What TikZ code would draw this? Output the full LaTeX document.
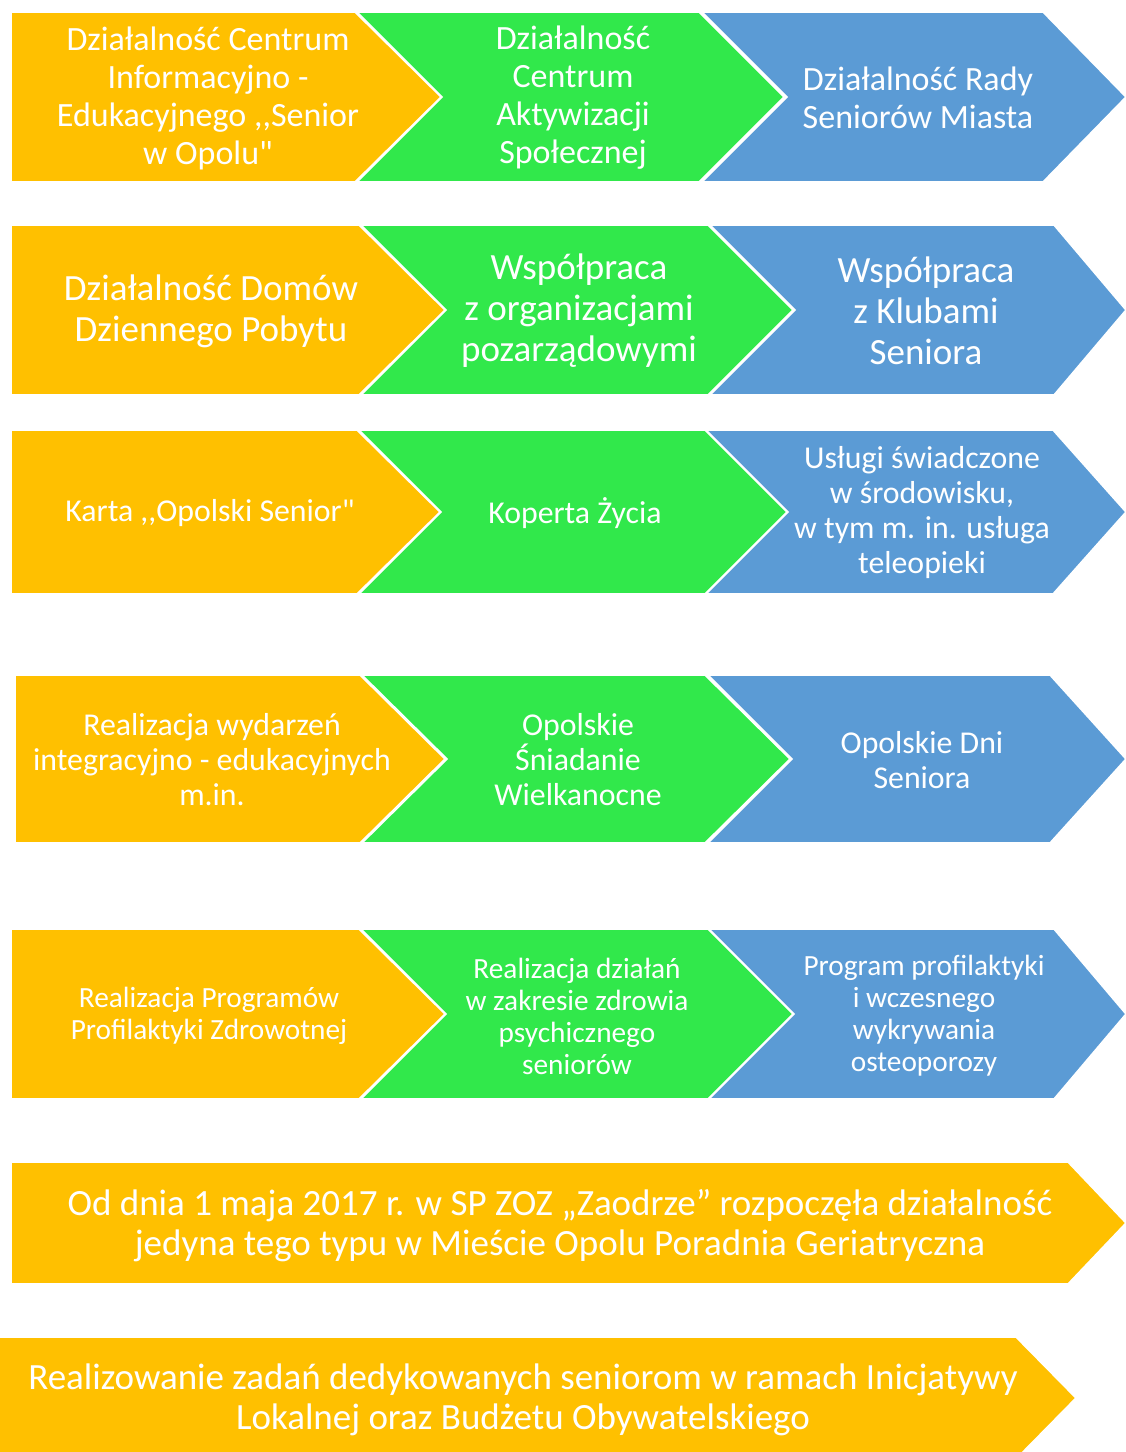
\documentclass[tikz,border=0pt]{standalone}
\usepackage{fontspec}
\setmainfont{Carlito}[Ligatures=TeXOff]
\definecolor{cy}{HTML}{FFC000}
\definecolor{cg}{HTML}{31E84B}
\definecolor{cb}{HTML}{5B9BD5}
\begin{document}
\begin{tikzpicture}[x=1pt,y=-1pt,
  shp/.style={draw=white, line width=1.6pt, line join=miter},
  yel/.style={shp, fill=cy},
  grn/.style={shp, fill=cg},
  blu/.style={shp, fill=cb},
  lbl/.style={text=white, align=center, inner sep=0pt},
  fa/.style={lbl, font=\fontsize{34}{38}\selectfont},
  fb/.style={lbl, font=\fontsize{37}{41}\selectfont},
  fc/.style={lbl, font=\fontsize{31.8}{35}\selectfont},
  fd/.style={lbl, font=\fontsize{29.3}{32}\selectfont},
  fe/.style={lbl, font=\fontsize{37}{40}\selectfont}]
\useasboundingbox (0,0) rectangle (1126,1452);
\fill[white] (0,0) rectangle (1126,1452);
% Row 1
\draw[yel] (11,12) -- (355,12) -- (441,97) -- (355,182) -- (11,182) -- cycle;
\draw[grn] (357,12) -- (699,12) -- (784,97) -- (699,182) -- (357,182) -- (442,97) -- cycle;
\draw[blu] (702,12) -- (1043,12) -- (1126,97) -- (1043,182) -- (702,182) -- (787,97) -- cycle;
\node[fa] (t11) at (208,98) {Działalność Centrum\\Informacyjno -\\Edukacyjnego ,,Senior\\w Opolu"};
\node[fa] (t12) at (573,98) {Działalność\\Centrum\\Aktywizacji\\Społecznej};
\node[fa] (t13) at (918,98) {Działalność Rady\\Seniorów Miasta};
% Row 2
\draw[yel] (11,225) -- (359,225) -- (445,310) -- (359,395) -- (11,395) -- cycle;
\draw[grn] (361,225) -- (708,225) -- (793,310) -- (708,395) -- (361,395) -- (446,310) -- cycle;
\draw[blu] (710,225) -- (1054,225) -- (1126,310) -- (1054,395) -- (710,395) -- (795,310) -- cycle;
\node[fb] (t21) at (211,311) {Działalność Domów\\Dziennego Pobytu};
\node[fb] (t22) at (579,311) {Współpraca\\z organizacjami\\pozarządowymi};
\node[fb] (t23) at (926,311) {Współpraca\\z Klubami\\Seniora};
% Row 3
\draw[yel] (11,430) -- (357,430) -- (440,512) -- (357,594) -- (11,594) -- cycle;
\draw[grn] (359,430) -- (705,430) -- (787,512) -- (705,594) -- (359,594) -- (441,512) -- cycle;
\draw[blu] (706,430) -- (1053,430) -- (1126,512) -- (1053,594) -- (706,594) -- (788,512) -- cycle;
\node[fc] (t31) at (210,513) {Karta ,,Opolski Senior"};
\node[fc] (t32) at (575,513) {Koperta Życia};
\node[fc] (t33) at (922,513) {Usługi świadczone\\w środowisku,\\w tym m. in. usługa\\teleopieki};
% Row 4
\draw[yel] (15,675) -- (360,675) -- (445,759) -- (360,843) -- (15,843) -- cycle;
\draw[grn] (362,675) -- (705,675) -- (790,759) -- (705,843) -- (362,843) -- (447,759) -- cycle;
\draw[blu] (708,675) -- (1050,675) -- (1126,759) -- (1050,843) -- (708,843) -- (792,759) -- cycle;
\node[fc] (t41) at (212,760) {Realizacja wydarzeń\\integracyjno - edukacyjnych\\m.in.};
\node[fc] (t42) at (578,760) {Opolskie\\Śniadanie\\Wielkanocne};
\node[fc] (t43) at (922,760) {Opolskie Dni\\Seniora};
% Row 5
\draw[yel] (11,929) -- (359,929) -- (445,1014) -- (359,1099) -- (11,1099) -- cycle;
\draw[grn] (361,929) -- (708,929) -- (793,1014) -- (708,1099) -- (361,1099) -- (446,1014) -- cycle;
\draw[blu] (709,929) -- (1054,929) -- (1126,1014) -- (1054,1099) -- (709,1099) -- (794,1014) -- cycle;
\node[fd] (t51) at (209,1016) {Realizacja Programów\\Profilaktyki Zdrowotnej};
\node[fd] (t52) at (577,1016) {Realizacja działań\\w zakresie zdrowia\\psychicznego\\seniorów};
\node[fd] (t53) at (924,1016) {Program profilaktyki\\i wczesnego\\wykrywania\\osteoporozy};
% Row 6
\draw[yel] (11,1162) -- (1068,1162) -- (1126,1223) -- (1068,1284) -- (11,1284) -- cycle;
\node[fe] (t6) at (560,1226) {Od dnia 1 maja 2017 r. w SP ZOZ „Zaodrze” rozpoczęła działalność\\jedyna tego typu w Mieście Opolu Poradnia Geriatryczna};
% Row 7
\draw[yel] (-2,1337) -- (1016,1337) -- (1076,1398) -- (1016,1459) -- (-2,1459) -- cycle;
\node[fe] (t7) at (523,1400) {Realizowanie zadań dedykowanych seniorom w ramach Inicjatywy\\Lokalnej oraz Budżetu Obywatelskiego};
\end{tikzpicture}
\end{document}
